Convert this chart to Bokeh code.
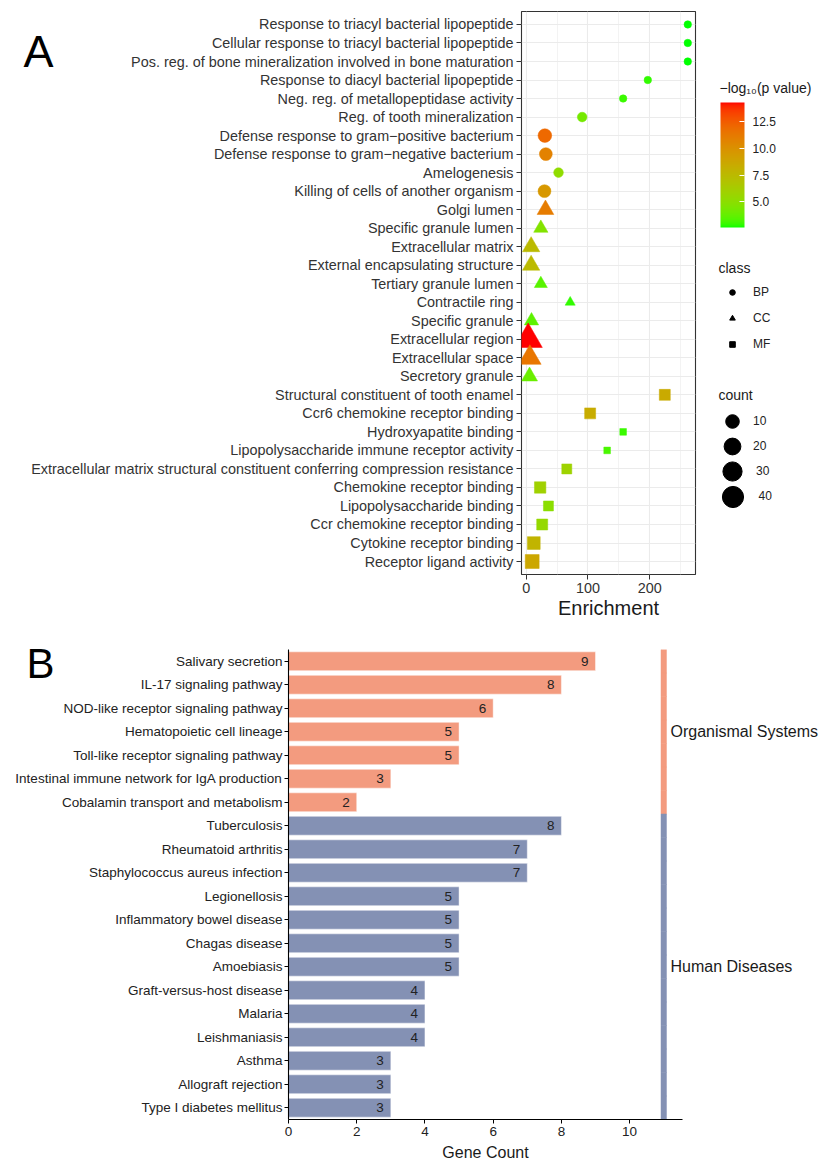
import numpy as np
from bokeh.plotting import figure
from bokeh.models import (ColumnDataSource, Range1d, FactorRange, LinearColorMapper, ColorBar,
                          FixedTicker, PrintfTickFormatter, Legend, LegendItem, Label,
                          SingleIntervalTicker)
from bokeh.transform import factor_mark, factor_cmap, transform
from bokeh.embed import file_html
from bokeh.resources import INLINE
from bokeh.core.properties import value

FONT = "Liberation Sans"

# ---------------- Panel A data (GO enrichment) ----------------
go_terms = [
    "Response to triacyl bacterial lipopeptide",
    "Cellular response to triacyl bacterial lipopeptide",
    "Pos. reg. of bone mineralization involved in bone maturation",
    "Response to diacyl bacterial lipopeptide",
    "Neg. reg. of metallopeptidase activity",
    "Reg. of tooth mineralization",
    "Defense response to gram\u2212positive bacterium",
    "Defense response to gram\u2212negative bacterium",
    "Amelogenesis",
    "Killing of cells of another organism",
    "Golgi lumen",
    "Specific granule lumen",
    "Extracellular matrix",
    "External encapsulating structure",
    "Tertiary granule lumen",
    "Contractile ring",
    "Specific granule",
    "Extracellular region",
    "Extracellular space",
    "Secretory granule",
    "Structural constituent of tooth enamel",
    "Ccr6 chemokine receptor binding",
    "Hydroxyapatite binding",
    "Lipopolysaccharide immune receptor activity",
    "Extracellular matrix structural constituent conferring compression resistance",
    "Chemokine receptor binding",
    "Lipopolysaccharide binding",
    "Ccr chemokine receptor binding",
    "Cytokine receptor binding",
    "Receptor ligand activity",
]
go_class = ["BP"] * 10 + ["CC"] * 10 + ["MF"] * 10
enrichment = [261.5, 261.5, 261.5, 196.8, 156.9, 90.6, 30.2, 31.8, 52.3, 29.6,
              31.2, 23.7, 8.0, 8.0, 23.7, 71.2, 8.6, 3.2, 5.9, 5.4,
              224.3, 103.5, 156.9, 131.0, 65.7, 22.6, 36.0, 25.9, 12.3, 9.7]
go_count = [2, 2, 2, 2, 2, 3, 10, 8, 3, 8,
            7, 4, 8, 8, 3, 2, 4, 40, 20, 6,
            7, 7, 2, 2, 5, 8, 5, 7, 12, 16]
neg_log10_p = [2.6, 2.6, 2.6, 2.9, 3.0, 4.2, 12.0, 10.8, 5.2, 9.6,
               11.1, 4.7, 7.5, 7.5, 3.5, 2.9, 3.6, 14.3, 11.4, 3.9,
               8.5, 8.4, 3.0, 3.2, 5.8, 5.9, 5.0, 5.4, 7.9, 8.7]
class_names = ["BP", "CC", "MF"]
size_breaks = [10, 20, 30, 40]
colorbar_ticks = [5.0, 7.5, 10.0, 12.5]
enrich_ticks = [0, 100, 200]
enrich_minor = [50, 150, 250]

# ---------------- Panel B data (KEGG) ----------------
kegg_pathways = [
    "Salivary secretion", "IL-17 signaling pathway", "NOD-like receptor signaling pathway",
    "Hematopoietic cell lineage", "Toll-like receptor signaling pathway",
    "Intestinal immune network for IgA production", "Cobalamin transport and metabolism",
    "Tuberculosis", "Rheumatoid arthritis", "Staphylococcus aureus infection", "Legionellosis",
    "Inflammatory bowel disease", "Chagas disease", "Amoebiasis", "Graft-versus-host disease",
    "Malaria", "Leishmaniasis", "Asthma", "Allograft rejection", "Type I diabetes mellitus",
]
kegg_counts = [9, 8, 6, 5, 5, 3, 2, 8, 7, 7, 5, 5, 5, 5, 4, 4, 4, 3, 3, 3]
kegg_category = ["Organismal Systems"] * 7 + ["Human Diseases"] * 13
category_names = ["Organismal Systems", "Human Diseases"]
category_colors = ["#F39B7F", "#8491B4"]


# ---------------- helpers: CIELAB gradient (green -> red) ----------------
WHITE = (0.95047, 1.0, 1.08883)


def _to_lin(c):
    c = c / 255.0
    return c / 12.92 if c <= 0.04045 else ((c + 0.055) / 1.055) ** 2.4


def _to_srgb(c):
    c = min(max(c, 0.0), 1.0)
    v = 12.92 * c if c <= 0.0031308 else 1.055 * c ** (1 / 2.4) - 0.055
    return int(round(v * 255))


def hex_to_lab(h):
    r, g, b = [_to_lin(int(h[i:i + 2], 16)) for i in (1, 3, 5)]
    X = 0.4124564 * r + 0.3575761 * g + 0.1804375 * b
    Y = 0.2126729 * r + 0.7151522 * g + 0.0721750 * b
    Z = 0.0193339 * r + 0.1191920 * g + 0.9503041 * b

    def f(t):
        return t ** (1 / 3) if t > 216 / 24389 else (24389 / 27 * t + 16) / 116
    fx, fy, fz = f(X / WHITE[0]), f(Y / WHITE[1]), f(Z / WHITE[2])
    return 116 * fy - 16, 500 * (fx - fy), 200 * (fy - fz)


def lab_to_hex(L, a, b):
    fy = (L + 16) / 116
    fx = fy + a / 500
    fz = fy - b / 200

    def finv(t):
        return t ** 3 if t ** 3 > 216 / 24389 else (116 * t - 16) / (24389 / 27)
    X, Y, Z = finv(fx) * WHITE[0], finv(fy) * WHITE[1], finv(fz) * WHITE[2]
    r = 3.2404542 * X - 1.5371385 * Y - 0.4985314 * Z
    g = -0.9692660 * X + 1.8760108 * Y + 0.0415560 * Z
    bb = 0.0556434 * X - 0.2040259 * Y + 1.0572252 * Z
    return "#%02x%02x%02x" % tuple(_to_srgb(c) for c in (r, g, bb))


lab_lo, lab_hi = hex_to_lab("#00FF00"), hex_to_lab("#FF0000")
palette = [lab_to_hex(*[lo + (hi - lo) * t for lo, hi in zip(lab_lo, lab_hi)])
           for t in np.linspace(0, 1, 256)]


def point_diameter(c):
    return 7.5 + 2.19 * np.sqrt(max(c - 2, 0))


shape_factor = {"BP": 1.0, "CC": 1.347, "MF": 0.886}
marker_sizes = [point_diameter(c) * shape_factor[k] for c, k in zip(go_count, go_class)]


def place(fig, left, top):
    fig.styles = {"position": "absolute", "left": f"{left}px", "top": f"{top}px"}


def blank_fig(w, h, y_range=None, top=0, bottom=0):
    f = figure(width=w, height=h, output_backend="svg", toolbar_location=None,
               x_axis_location=None, y_axis_location=None, min_border=0,
               min_border_top=top, min_border_bottom=bottom,
               x_range=Range1d(0, 1), y_range=y_range if y_range is not None else Range1d(0, 1))
    f.grid.visible = False
    f.outline_line_color = None
    f.background_fill_alpha = 0
    f.border_fill_alpha = 0
    return f


# ---------------- Figure A (main plot) ----------------
srcA = ColumnDataSource(dict(term=go_terms, cls=go_class, enrich=enrichment,
                             count=go_count, p=neg_log10_p, size=marker_sizes))

pA = figure(width=700, height=619, output_backend="svg", toolbar_location=None,
            x_range=Range1d(-7.6, 274),
            y_range=FactorRange(factors=list(reversed(go_terms)), range_padding=0.2,
                                range_padding_units="absolute"),
            min_border_left=513, min_border_right=13, min_border_top=3, min_border_bottom=53)
place(pA, 8, 8)
pA.background_fill_color = "white"
pA.border_fill_color = "white"
pA.outline_line_color = "#333333"
pA.outline_line_width = 1.1

mapper = LinearColorMapper(palette=palette, low=min(neg_log10_p), high=max(neg_log10_p))
pA.scatter(x="enrich", y="term", size="size", source=srcA,
           marker=factor_mark("cls", ["circle", "triangle", "square"], class_names),
           fill_color=transform("p", mapper), line_color=transform("p", mapper), line_width=0.5)

pA.xaxis.ticker = FixedTicker(ticks=enrich_ticks, minor_ticks=enrich_minor)
pA.xgrid.grid_line_color = "#EBEBEB"
pA.xgrid.grid_line_width = 1.1
pA.xgrid.minor_grid_line_color = "#F0F0F0"
pA.xgrid.minor_grid_line_width = 0.8
pA.ygrid.grid_line_color = "#EBEBEB"
pA.ygrid.grid_line_width = 1.1

for ax in (pA.xaxis[0], pA.yaxis[0]):
    ax.axis_line_color = None
    ax.major_tick_line_color = "#333333"
    ax.major_tick_out = 5
    ax.major_tick_in = 0
    ax.minor_tick_line_color = None
    ax.major_label_text_font = FONT
    ax.major_label_text_font_size = "14.4px"
    ax.major_label_text_color = "#333333"
    ax.major_label_standoff = 3
pA.xaxis.axis_label = "Enrichment"
pA.xaxis.axis_label_text_font = FONT
pA.xaxis.axis_label_text_font_size = "20px"
pA.xaxis.axis_label_text_font_style = "normal"
pA.xaxis.axis_label_text_color = "#1a1a1a"
pA.xaxis.axis_label_standoff = 1

# ---------------- legends of panel A (own figure) ----------------
# frame of this figure: page x 704..829, page y 70..540
pL = blank_fig(125, 470)
place(pL, 704, 70)

cbar = ColorBar(color_mapper=mapper, location=(16, 313), width=24, height=125, padding=0,
                ticker=FixedTicker(ticks=colorbar_ticks),
                formatter=PrintfTickFormatter(format="%.1f"),
                major_tick_line_color="white", major_tick_in=5, major_tick_out=0,
                minor_tick_line_color=None, bar_line_color=None,
                major_label_text_font=FONT, major_label_text_font_size="12px",
                major_label_text_color="#222222", label_standoff=8,
                background_fill_alpha=0, border_line_color=None)
pL.add_layout(cbar)

legend_style = dict(background_fill_alpha=0, border_line_color=None, padding=0, margin=0,
                    label_text_font=FONT, label_text_font_size="12px",
                    label_text_color="#222222")

class_items = []
for nm, mk in zip(class_names, ["circle", "triangle", "square"]):
    r = pL.scatter(x=[np.nan], y=[np.nan], marker=mk, size=6, color="black")
    class_items.append(LegendItem(label=nm, renderers=[r]))
pL.add_layout(Legend(items=class_items, location=(21, 189), glyph_width=14, glyph_height=14,
                     label_height=14, label_standoff=14, spacing=12, **legend_style))

for k, c in enumerate(size_breaks):
    d = point_diameter(c)
    gw = int(round(d / 0.4))
    cy = 119 - 25 * k
    r = pL.scatter(x=[np.nan], y=[np.nan], marker="circle", size=d, color="black")
    pL.add_layout(Legend(items=[LegendItem(label=str(c), renderers=[r])],
                         location=(28 - gw / 2, cy - gw / 2), glyph_width=gw, glyph_height=gw,
                         label_height=10, label_standoff=int(round(21 - gw / 2)), spacing=0,
                         **legend_style))

for txt, xx, yy in (("\u2212log\u2081\u2080(p value)", 15, 453), ("class", 14, 273),
                    ("count", 14, 146)):
    pL.add_layout(Label(x=xx, y=yy, x_units="screen", y_units="screen", text=txt,
                        text_font=FONT, text_font_size="14px", text_color="#1a1a1a",
                        text_baseline="middle"))

# panel letter A
pTagA = blank_fig(80, 80)
place(pTagA, 15, 10)
pTagA.add_layout(Label(x=8, y=38.6, x_units="screen", y_units="screen", text="A",
                       text_font=FONT, text_font_size="45px", text_color="black",
                       text_baseline="middle"))

# ---------------- Figure B ----------------
srcB = ColumnDataSource(dict(path=kegg_pathways, count=kegg_counts, cat=kegg_category,
                             lab=[str(v) for v in kegg_counts]))
yB = FactorRange(factors=list(reversed(kegg_pathways)))
pB = figure(width=684, height=537, output_backend="svg", toolbar_location=None,
            x_range=Range1d(0, 11.55), y_range=yB,
            min_border_left=280, min_border_right=10, min_border_top=22, min_border_bottom=45)
place(pB, 8, 627)
pB.outline_line_color = None
pB.xgrid.grid_line_color = None
pB.ygrid.grid_line_color = None
cmapB = factor_cmap("cat", category_colors, category_names)
pB.hbar(y="path", right="count", left=0, height=0.8, source=srcB, fill_color=cmapB,
        line_color="white", line_alpha=0.45, line_width=1)
pB.text(x="count", y="path", text="lab", source=srcB, text_align="right",
        text_baseline="middle", x_offset=-7, text_font_size="13.5px", text_color="#222222",
        text_font=value(FONT))
pB.hbar(y="path", left=10.92, right=11.08, height=1.0, source=srcB, fill_color=cmapB,
        line_color=cmapB, line_width=0.5)

pB.xaxis.ticker = SingleIntervalTicker(interval=2, num_minor_ticks=0)
for ax in (pB.xaxis[0], pB.yaxis[0]):
    ax.axis_line_color = "black"
    ax.axis_line_width = 1.1
    ax.major_tick_line_color = "black"
    ax.major_tick_out = 4
    ax.major_tick_in = 0
    ax.minor_tick_line_color = None
    ax.major_label_text_font = FONT
    ax.major_label_text_font_size = "13.5px"
    ax.major_label_text_color = "#222222"
pB.yaxis.major_label_standoff = 2
pB.xaxis.major_label_standoff = 3
pB.xaxis.axis_label = "Gene Count"
pB.xaxis.axis_label_text_font = FONT
pB.xaxis.axis_label_text_font_size = "16px"
pB.xaxis.axis_label_text_font_style = "normal"
pB.xaxis.axis_label_text_color = "#1a1a1a"
pB.xaxis.axis_label_standoff = 5

# category labels beside the strip (shares the category axis of panel B)
pBL = blank_fig(164, 537, y_range=yB, top=22, bottom=45)
place(pBL, 665, 627)
nB = len(kegg_pathways)
for name in category_names:
    rows = [i for i, c in enumerate(kegg_category) if c == name]
    ymid = float(np.mean([nB - i - 0.5 for i in rows]))
    pBL.add_layout(Label(x=5, y=ymid, x_units="screen", text=name, text_font=FONT,
                         text_font_size="16px", text_color="#1a1a1a", text_baseline="middle"))

# panel letter B
pTagB = blank_fig(80, 80)
place(pTagB, 15, 620)
pTagB.add_layout(Label(x=11, y=37, x_units="screen", y_units="screen", text="B",
                       text_font=FONT, text_font_size="42px", text_color="black",
                       text_baseline="middle"))

open("out.html", "w").write(file_html([pA, pL, pTagA, pB, pBL, pTagB], INLINE))
